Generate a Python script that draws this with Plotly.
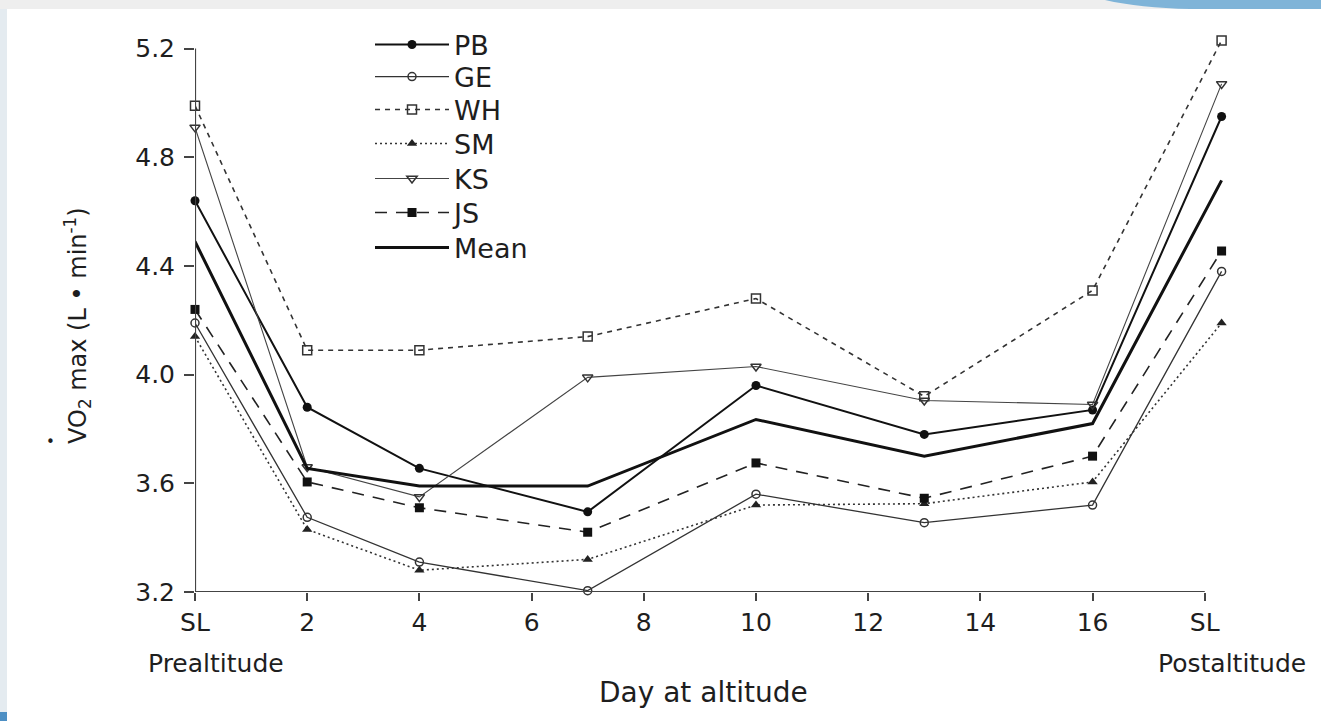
import plotly.graph_objects as go

# ---------------- data ----------------
days = [0, 2, 4, 7, 10, 13, 16, 18.3]
tick_vals = [0, 2, 4, 6, 8, 10, 12, 14, 16, 18]
tick_text = ["SL", "2", "4", "6", "8", "10", "12", "14", "16", "SL"]
y_tick_vals = [3.2, 3.6, 4.0, 4.4, 4.8, 5.2]
y_tick_text = ["3.2", "3.6", "4.0", "4.4", "4.8", "5.2"]

PB = [4.64, 3.88, 3.655, 3.495, 3.96, 3.78, 3.87, 4.95]
GE = [4.19, 3.475, 3.31, 3.205, 3.56, 3.455, 3.52, 4.38]
WH = [4.99, 4.09, 4.09, 4.14, 4.28, 3.92, 4.31, 5.23]
SM = [4.14, 3.43, 3.28, 3.32, 3.52, 3.525, 3.605, 4.19]
KS = [4.91, 3.66, 3.55, 3.99, 4.03, 3.905, 3.89, 5.07]
JS = [4.24, 3.605, 3.51, 3.42, 3.675, 3.545, 3.70, 4.455]
MEAN = [4.49, 3.655, 3.59, 3.59, 3.835, 3.70, 3.82, 4.715]

# ---------------- layout geometry ----------------
W, H = 1321, 721
L, R, T, B = 195, 91, 35, 129
PW, PH = W - L - R, H - T - B
FONT = "DejaVu Sans, Liberation Sans, Arial, sans-serif"
INK = "#1e1e1e"


def px_x(px):
    return (px - L) / PW


def px_y(py):
    return (H - B - py) / PH


fig = go.Figure()

# name, values, line style, marker style, legend centre y (px)
series = [
    ("PB", PB, dict(color="#111", width=2.0, dash="solid"),
     dict(symbol="circle", size=9, color="#111"), 45),
    ("GE", GE, dict(color="#333", width=1.3, dash="solid"),
     dict(symbol="circle-open", size=8, color="#333", line=dict(width=1.5)), 77),
    ("WH", WH, dict(color="#333", width=1.6, dash="5px,5px"),
     dict(symbol="square-open", size=9, color="#333", line=dict(width=1.5)), 110),
    ("SM", SM, dict(color="#333", width=1.6, dash="2px,3px"),
     dict(symbol="triangle-up", size=9, color="#222"), 144),
    ("KS", KS, dict(color="#444", width=1.1, dash="solid"),
     dict(symbol="triangle-down-open", size=9, color="#333", line=dict(width=1.5)), 179),
    ("JS", JS, dict(color="#222", width=1.6, dash="12px,9px"),
     dict(symbol="square", size=9, color="#111"), 213),
]

legend_layouts = {}
for i, (name, vals, ln, mk, ly) in enumerate(series):
    key = "legend" if i == 0 else f"legend{i + 1}"
    fig.add_trace(go.Scatter(
        x=days, y=vals, name=name, mode="lines+markers",
        line=ln, marker=mk, cliponaxis=False, legend=key,
    ))
    legend_layouts[key] = ly

mean_key = f"legend{len(series) + 1}"
fig.add_trace(go.Scatter(
    x=days, y=MEAN, name="Mean", mode="lines",
    line=dict(color="#111", width=3.0), cliponaxis=False, legend=mean_key,
))
legend_layouts[mean_key] = 248

legend_cfg = {}
for key, ly in legend_layouts.items():
    legend_cfg[key] = dict(
        x=px_x(370), y=px_y(ly), xanchor="left", yanchor="middle",
        bgcolor="rgba(0,0,0,0)", itemwidth=74,
        font=dict(size=27, family=FONT, color=INK),
    )

# axis lines drawn as shapes so they stop at the end ticks
shapes = [
    dict(type="line", xref="x", yref="y", x0=0, x1=0, y0=3.2, y1=5.2,
         line=dict(color="#444", width=2.2), layer="above"),
    dict(type="line", xref="x", yref="y", x0=0, x1=18, y0=3.2, y1=3.2,
         line=dict(color="#444", width=2.2), layer="above"),
    # slide decorations
    dict(type="rect", xref="paper", yref="paper", x0=px_x(0), x1=px_x(W),
         y0=px_y(9), y1=px_y(0), fillcolor="#eeeeee", line=dict(width=0),
         layer="below"),
    dict(type="path", xref="paper", yref="paper",
         path=f"M {px_x(1105)},{px_y(0)} Q {px_x(1140)},{px_y(8)} {px_x(1190)},{px_y(9)} "
              f"L {px_x(W)},{px_y(9)} L {px_x(W)},{px_y(0)} Z",
         fillcolor="#7fb4d8", line=dict(width=0), layer="below"),
    dict(type="rect", xref="paper", yref="paper", x0=px_x(0), x1=px_x(7),
         y0=px_y(H), y1=px_y(9), fillcolor="#e4ebf0", line=dict(width=0),
         layer="below"),
    dict(type="rect", xref="paper", yref="paper", x0=px_x(0), x1=px_x(7),
         y0=px_y(H), y1=px_y(712), fillcolor="#4d8fc4", line=dict(width=0),
         layer="below"),
]

annotations = [
    dict(text="Prealtitude", xref="paper", yref="paper", x=px_x(216), y=px_y(663),
         xanchor="center", yanchor="middle", showarrow=False,
         font=dict(size=25, color=INK, family=FONT)),
    dict(text="Postaltitude", xref="paper", yref="paper", x=px_x(1232), y=px_y(663),
         xanchor="center", yanchor="middle", showarrow=False,
         font=dict(size=25, color=INK, family=FONT)),
    dict(text="Day at altitude", xref="paper", yref="paper", x=px_x(703), y=px_y(692),
         xanchor="center", yanchor="middle", showarrow=False,
         font=dict(size=28, color=INK, family=FONT)),
    dict(text="VO<sub>2</sub> max (L \u2022 min<sup>-1</sup>)", xref="paper", yref="paper",
         x=px_x(77), y=px_y(326), xanchor="center", yanchor="middle",
         textangle=-90, showarrow=False,
         font=dict(size=24, color=INK, family=FONT)),
    # dot accent over the V
    dict(text="\u2022", xref="paper", yref="paper",
         x=px_x(50), y=px_y(442), xanchor="center", yanchor="middle",
         showarrow=False, font=dict(size=15, color=INK, family=FONT)),
]

fig.update_layout(
    width=W, height=H, autosize=False,
    margin=dict(l=L, r=R, t=T, b=B, pad=0),
    paper_bgcolor="white", plot_bgcolor="white",
    font=dict(family=FONT, color=INK, size=25),
    showlegend=True,
    xaxis=dict(
        range=[0, 18.45], showgrid=False, zeroline=False, showline=False,
        tickmode="array", tickvals=tick_vals, ticktext=tick_text,
        ticks="outside", ticklen=8, tickwidth=1.6, tickcolor="#444",
        tickfont=dict(size=25, family=FONT, color=INK),
    ),
    yaxis=dict(
        range=[3.2, 5.25], showgrid=False, zeroline=False, showline=False,
        tickmode="array", tickvals=y_tick_vals, ticktext=y_tick_text,
        ticks="outside", ticklen=10, tickwidth=1.6, tickcolor="#444",
        tickfont=dict(size=25, family=FONT, color=INK),
        ticklabelstandoff=4,
    ),
    shapes=shapes,
    annotations=annotations,
    **legend_cfg,
)

fig.write_html("out.html")
